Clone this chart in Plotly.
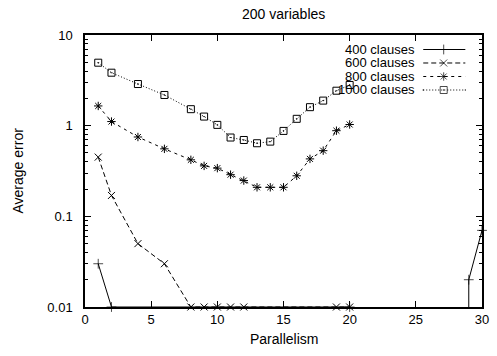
import plotly.graph_objects as go

# ---- data ----
parallelism_400 = [1, 2, 20, 29, 29, 30]
error_400 = [0.03, 0.01, 0.01, 0.001, 0.02, 0.07]   # 0.001 = below axis range (off-chart)
visible_400 = [1, 1, 1, 0, 1, 1]

parallelism_600 = [1, 2, 4, 6, 8, 9, 10, 11, 12, 19, 20]
error_600 = [0.45, 0.17, 0.05, 0.03, 0.01, 0.01, 0.01, 0.01, 0.01, 0.01, 0.01]

parallelism_800 = [1, 2, 4, 6, 8, 9, 10, 11, 12, 13, 14, 15, 16, 17, 18, 19, 20]
error_800 = [1.65, 1.11, 0.75, 0.555, 0.42, 0.36, 0.34, 0.288, 0.248, 0.209, 0.209, 0.209,
             0.28, 0.43, 0.53, 0.88, 1.03]

parallelism_1000 = [1, 2, 4, 6, 8, 9, 10, 11, 12, 13, 14, 15, 16, 17, 18, 19, 20]
error_1000 = [4.95, 3.84, 2.88, 2.18, 1.52, 1.26, 1.02, 0.74, 0.695, 0.64, 0.667, 0.875,
              1.19, 1.6, 1.89, 2.43, 2.81]

series_names = ["400 clauses", "600 clauses", "800 clauses", "1000 clauses"]
x_ticks = [0, 5, 10, 15, 20, 25, 30]
y_ticks = [0.01, 0.1, 1, 10]
y_tick_text = ["0.01", "0.1", "1", "10"]

FONT = "Liberation Sans, Arial, sans-serif"
MS = 7
styles = [
    dict(dash="solid", symbol="cross-thin-open"),
    dict(dash="5px,3px", symbol="x-thin-open"),
    dict(dash="3px,4px", symbol="asterisk-open"),
    dict(dash="1px,2px", symbol="square-open-dot"),
]

fig = go.Figure()
data = [
    (parallelism_400, error_400, [MS * v for v in visible_400]),
    (parallelism_600, error_600, MS),
    (parallelism_800, error_800, MS),
    (parallelism_1000, error_1000, MS),
]
for (xs, ys, sz), st, name in zip(data, styles, series_names):
    fig.add_trace(go.Scatter(
        x=xs, y=ys, mode="lines+markers", name=name, showlegend=False,
        cliponaxis=False,
        line=dict(color="black", width=1, dash=st["dash"]),
        marker=dict(symbol=st["symbol"], size=sz, color="black",
                    line=dict(color="black", width=1)),
    ))

# ---- custom gnuplot-style legend (text left, sample right) ----
leg_rows = [0.9467, 0.8971, 0.8474, 0.7978]
for row, st, name in zip(leg_rows, styles, series_names):
    fig.add_trace(go.Scatter(
        x=[0.852, 0.9035, 0.958], y=[row, row, row], xaxis="x2", yaxis="y2",
        mode="lines+markers", showlegend=False, hoverinfo="skip", cliponaxis=False,
        line=dict(color="black", width=1, dash=st["dash"]),
        marker=dict(symbol=st["symbol"], size=[0, MS, 0], color="black",
                    line=dict(color="black", width=1)),
    ))
    fig.add_annotation(x=0.8366, y=row, xref="paper", yref="paper", text=name,
                       showarrow=False, xanchor="right", yanchor="middle",
                       font=dict(family=FONT, size=13, color="black"))

minor_vals = [m * 10 ** e for e in (-2, -1, 0) for m in range(2, 10)]

fig.update_layout(
    width=497, height=356,
    margin=dict(l=85, r=8, t=35, b=49),
    paper_bgcolor="white", plot_bgcolor="white",
    font=dict(family=FONT, size=13, color="black"),
    xaxis=dict(range=[0, 30], tickvals=x_ticks, ticks="inside", ticklen=6,
               tickcolor="black", showline=True, linecolor="black", linewidth=1.5,
               mirror="allticks", showgrid=False, zeroline=False,
               tickfont=dict(size=13)),
    yaxis=dict(type="log", range=[-2, 1], tickvals=y_ticks, ticktext=y_tick_text,
               ticks="inside", ticklen=6, tickcolor="black", showline=True,
               linecolor="black", linewidth=1.5, mirror="allticks", showgrid=False,
               zeroline=False, tickfont=dict(size=13), ticklabelstandoff=8,
               minor=dict(tickvals=minor_vals, ticks="inside", ticklen=3,
                          tickcolor="black", showgrid=False)),
    xaxis2=dict(range=[0, 1], overlaying="x", visible=False, anchor="y2"),
    yaxis2=dict(range=[0, 1], overlaying="y", visible=False, anchor="x2"),
    showlegend=False,
)

fig.add_annotation(x=0.5, y=(307 - 14) / 272, xref="paper", yref="paper",
                   text="200 variables", showarrow=False, yanchor="middle",
                   font=dict(family=FONT, size=14))
fig.add_annotation(x=0.5, y=-0.118, xref="paper", yref="paper", text="Parallelism",
                   showarrow=False, yanchor="middle", font=dict(family=FONT, size=14))
fig.add_annotation(x=-0.17, y=0.5, xref="paper", yref="paper", text="Average error",
                   showarrow=False, textangle=-90, xanchor="center", yanchor="middle",
                   font=dict(family=FONT, size=14))

fig.write_html("out.html")
